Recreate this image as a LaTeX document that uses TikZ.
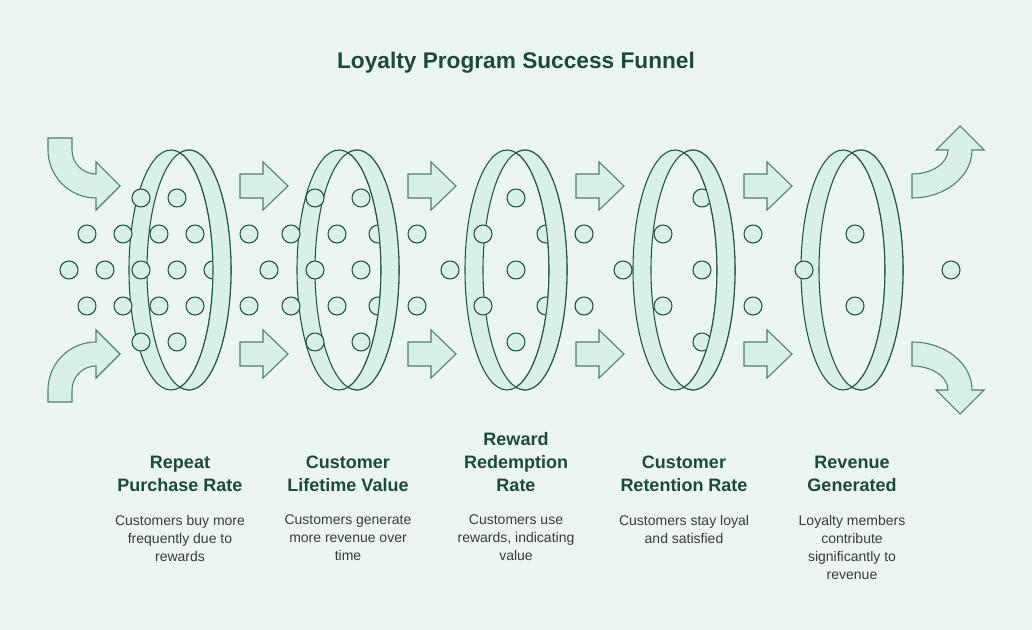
\documentclass[tikz,border=0pt]{standalone}
\usepackage{fontspec}
\setmainfont{Liberation Sans}
\begin{document}
\begin{tikzpicture}[x=0.75pt,y=-0.75pt,
  line width=0.8pt,
  dot/.style={draw=ringline,fill=ringfill},
  arr/.style={draw=arrline,fill=ringfill,line join=miter},
  ttl/.style={font=\bfseries\fontsize{13.5}{17.5}\selectfont,text=titlec,align=center},
  dsc/.style={font=\fontsize{10.5}{13.5}\selectfont,text=descc,align=center}]
\definecolor{bgc}{HTML}{EBF6F2}
\definecolor{ringfill}{HTML}{D8F0E6}
\definecolor{ringline}{HTML}{1F5443}
\definecolor{arrline}{HTML}{4E8070}
\definecolor{titlec}{HTML}{1B4A3A}
\definecolor{descc}{HTML}{3A3A3A}
\fill[bgc] (0,0) rectangle (1032,630);
\useasboundingbox (0,0) rectangle (1032,630);
\node[font=\bfseries\fontsize{17}{20}\selectfont,text=titlec] (title) at (516,63) {Loyalty Program Success Funnel};
% rings base
\foreach \L in {129,297,465,633,801}{
  \fill[ringfill] (\L+42,270) ellipse[x radius=42,y radius=120];
  \fill[ringfill] (\L+60,270) ellipse[x radius=42,y radius=120];
  \begin{scope}
    \clip (\L+42,270) ellipse[x radius=42,y radius=120];
    \fill[bgc] (\L+60,270) ellipse[x radius=42,y radius=120];
  \end{scope}
  \draw[ringline] (\L+42,270) ellipse[x radius=42,y radius=120];
  \draw[ringline] (\L+60,270) ellipse[x radius=42,y radius=120];
}
% dots
\foreach \p in {(69,270),(105,270),(141,270),(177,270),(213,270),(87,234),(123,234),(159,234),(195,234),(87,306),(123,306),(159,306),(195,306),(141,198),(177,198),(141,342),(177,342),
(249,234),(291,234),(249,306),(291,306),(269,270),
(337,234),(378,234),(337,306),(378,306),(315,270),(361,270),(315,198),(361,198),(315,342),(361,342),
(417,234),(417,306),(450,270),
(483,234),(546,234),(483,306),(546,306),(516,198),(516,270),(516,342),
(584,234),(584,306),(623,270),
(663,234),(663,306),(702,198),(702,270),(702,342),
(753,234),(753,306),
(804,270),(855,234),(855,306),(951,270)}
  \draw[dot] \p circle[radius=9];
% right bands on top
\foreach \L in {129,297,465,633,801}{
  \begin{scope}
    \clip (\L+51,100) rectangle (\L+110,440);
    \fill[ringfill,even odd rule] (\L+42,270) ellipse[x radius=42,y radius=120] (\L+60,270) ellipse[x radius=42,y radius=120];
    \draw[ringline] (\L+42,270) ellipse[x radius=42,y radius=120];
    \draw[ringline] (\L+60,270) ellipse[x radius=42,y radius=120];
  \end{scope}
}
% straight arrows
\foreach \X in {240,408,576,744}{
  \foreach \Y in {186,354}{
    \draw[arr] (\X,\Y-12) -- (\X+23,\Y-12) -- (\X+23,\Y-24) -- (\X+48,\Y) -- (\X+23,\Y+24) -- (\X+23,\Y+12) -- (\X,\Y+12) -- cycle;
  }
}
% curved arrows left
\draw[arr] (48,138) -- (72,138) -- (72,150) arc[start angle=180,end angle=90,radius=24] -- (96,162) -- (120,186) -- (96,210) -- (96,198) arc[start angle=90,end angle=180,radius=48] -- cycle;
\draw[arr] (48,402) -- (72,402) -- (72,390) arc[start angle=180,end angle=270,radius=24] -- (96,378) -- (120,354) -- (96,330) -- (96,342) arc[start angle=270,end angle=180,radius=48] -- cycle;
% curved arrows right
\draw[arr] (912,198) -- (912,174) arc[start angle=90,end angle=0,x radius=36,y radius=24] -- (936,150) -- (960,126) -- (984,150) -- (972,150) arc[start angle=0,end angle=90,x radius=60,y radius=48] -- cycle;
\draw[arr] (912,342) -- (912,366) arc[start angle=270,end angle=360,x radius=36,y radius=24] -- (936,390) -- (960,414) -- (984,390) -- (972,390) arc[start angle=360,end angle=270,x radius=60,y radius=48] -- cycle;
% labels
\node[ttl] (t1) at (180,474) {Repeat\\Purchase Rate};
\node[ttl] (t2) at (348,474) {Customer\\Lifetime Value};
\node[ttl] (t3) at (516,462) {Reward\\Redemption\\Rate};
\node[ttl] (t4) at (684,474) {Customer\\Retention Rate};
\node[ttl] (t5) at (852,474) {Revenue\\Generated};
\node[dsc,anchor=north] (d1) at (180,510) {Customers buy more\\frequently due to\\rewards};
\node[dsc,anchor=north] (d2) at (348,510) {Customers generate\\more revenue over\\time};
\node[dsc,anchor=north] (d3) at (516,510) {Customers use\\rewards, indicating\\value};
\node[dsc,anchor=north] (d4) at (684,510) {Customers stay loyal\\and satisfied};
\node[dsc,anchor=north] (d5) at (852,510) {Loyalty members\\contribute\\significantly to\\revenue};
\end{tikzpicture}
\end{document}
